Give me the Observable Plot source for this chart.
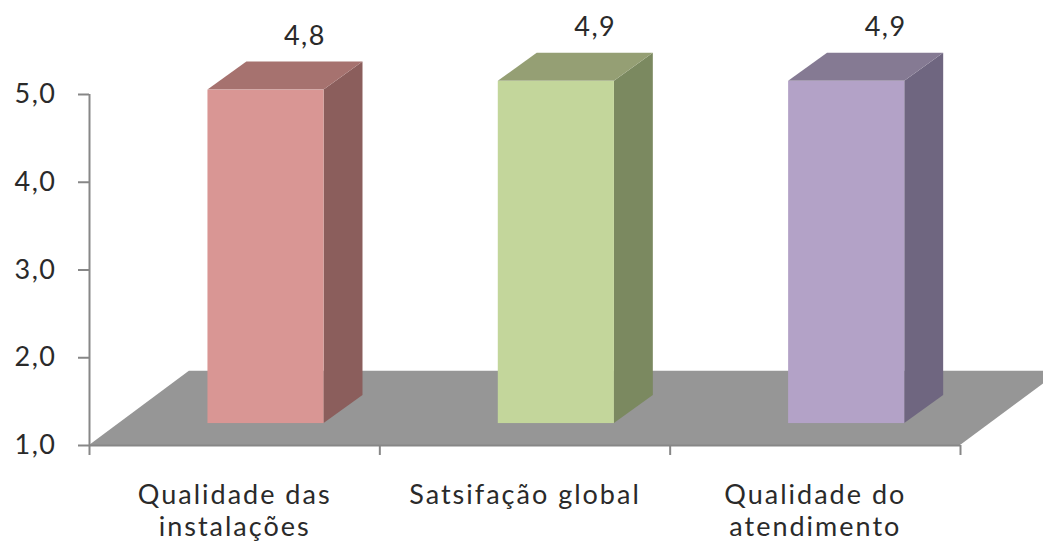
<!DOCTYPE html>
<html>
<head>
<meta charset="utf-8">
<script src="https://cdn.jsdelivr.net/npm/d3@7"></script>
<script src="https://cdn.jsdelivr.net/npm/@observablehq/plot@0.6"></script>
<style>
  html, body { margin: 0; padding: 0; background: #ffffff; }
  #chart svg { display: block; }
  #chart .spaced text { letter-spacing: 2px; }
  #chart .ticklabels text { letter-spacing: 1.5px; }
</style>
</head>
<body>
<div id="chart"></div>
<script>
// Survey scores (scale 1–5)
const categories = ["Qualidade das\ninstalações", "Satsifação global", "Qualidade do\natendimento"];
const values = [4.8, 4.9, 4.9];
const valueLabels = ["4,8", "4,9", "4,9"];
const yTicks = [1, 2, 3, 4, 5];

const frontColors = ["#d99694", "#c3d69b", "#b3a2c7"];
const topColors = ["#a6726f", "#959f74", "#857a93"];
const sideColors = ["#8b5e5c", "#7b8960", "#6f6680"];

// 3D projection, expressed in data units (x: category slot, y: score)
const floorDepth = {x: 0.344, y: 0.845};
const barOffset = {x: 0.108, y: 0.25};   // bar front face sits partway back on the floor
const barDepth = {x: 0.134, y: 0.32};
const barHalf = 0.2;
const base = 1;

const bars = categories.map((c, i) => {
  const cx = i + 0.5 + barOffset.x;
  return {
    i, value: values[i], label: valueLabels[i],
    x1: cx - barHalf, x2: cx + barHalf,
    y1: base + barOffset.y, y2: values[i] + barOffset.y
  };
});

// Top faces: parallelograms with horizontal edges
const tops = bars.flatMap(b => [
  {i: b.i, y: b.y2, x1: b.x1, x2: b.x2},
  {i: b.i, y: b.y2 + barDepth.y, x1: b.x1 + barDepth.x, x2: b.x2 + barDepth.x}
]);
// Side faces: parallelograms with vertical edges
const sides = bars.flatMap(b => [
  {i: b.i, x: b.x2, y1: b.y1, y2: b.y2},
  {i: b.i, x: b.x2 + barDepth.x, y1: b.y1 + barDepth.y, y2: b.y2 + barDepth.y}
]);
// Floor
const n = categories.length;
const floor = [
  {y: base, x1: 0, x2: n},
  {y: base + floorDepth.y, x1: floorDepth.x, x2: n + floorDepth.x}
];

const font = "Lato, 'Open Sans', sans-serif";
const axisColor = "#878787";
const textColor = "#2a2a2a";
const fontSize = 27;

const chart = Plot.plot({
  width: 1043,
  height: 546,
  marginLeft: 89,
  marginRight: 83,
  marginTop: 94,
  marginBottom: 101,
  style: {fontFamily: font, fontSize: fontSize + "px", color: textColor, background: "#ffffff"},
  x: {type: "linear", domain: [0, n], axis: null},
  y: {type: "linear", domain: [1, 5], axis: null},
  marks: [
    // floor
    Plot.areaX(floor, {y: "y", x1: "x1", x2: "x2", fill: "#969696"}),
    // axis lines
    Plot.ruleX([0], {y1: 1, y2: 5, stroke: axisColor, strokeWidth: 2}),
    Plot.ruleY([1], {x1: 0, x2: n, stroke: axisColor, strokeWidth: 2}),
    Plot.axisY({
      ticks: yTicks,
      tickFormat: d => d.toFixed(1).replace(".", ","),
      tickSize: 11,
      tickPadding: 22,
      stroke: axisColor,
      strokeWidth: 2,
      strokeOpacity: 1,
      fill: textColor,
      fontSize,
      textStroke: null,
      className: "ticklabels",
      label: null
    }),
    Plot.axisX({
      ticks: d3.range(n + 1),
      tickFormat: () => "",
      tickSize: 10,
      stroke: axisColor,
      strokeWidth: 2,
      strokeOpacity: 1,
      label: null
    }),
    // bars: side, top, front
    Plot.areaY(sides, {x: "x", y1: "y1", y2: "y2", z: "i", fill: d => sideColors[d.i]}),
    Plot.areaX(tops, {y: "y", x1: "x1", x2: "x2", z: "i", fill: d => topColors[d.i]}),
    Plot.rect(bars, {x1: "x1", x2: "x2", y1: "y1", y2: "y2", fill: d => frontColors[d.i]}),
    // value labels above the back edge of each bar
    Plot.text(bars, {
      x: d => d.x1 + barHalf + barDepth.x,
      y: d => d.y2 + barDepth.y,
      text: "label",
      lineAnchor: "bottom",
      dy: -17,
      fill: textColor,
      fontSize,
      className: "ticklabels"
    }),
    // category labels
    Plot.text(categories, {
      x: (d, i) => i + 0.5,
      y: () => base,
      text: d => d,
      lineAnchor: "top",
      lineHeight: 1.2,
      dy: 35,
      fill: textColor,
      fontSize,
      className: "spaced"
    })
  ]
});

document.getElementById("chart").append(chart);
</script>
</body>
</html>
